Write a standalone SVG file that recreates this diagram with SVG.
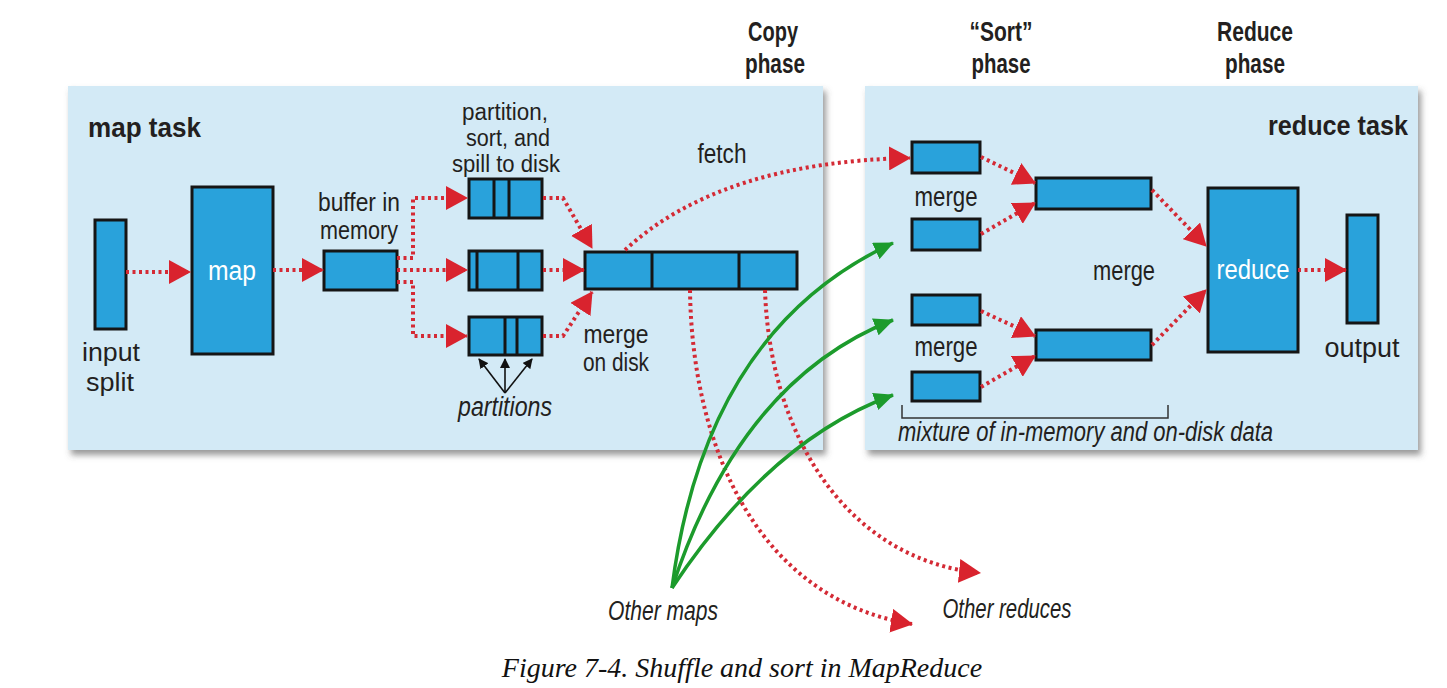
<svg xmlns="http://www.w3.org/2000/svg" width="1447" height="688" viewBox="0 0 1447 688">
<style>
.panel{fill:#d3eaf6}
.box{fill:#29a2db;stroke:#151515;stroke-width:3}
.div{stroke:#151515;stroke-width:3}
.lbl{font-family:"Liberation Sans",Arial,sans-serif;font-size:27px;fill:#231f20;text-anchor:middle}
.s26{font-size:26px}
.s25{font-size:25px}
.s23{font-size:23px}
.it{font-style:italic}
.bold{font-weight:bold;font-size:28px}
.wht{fill:#ffffff}
.dot{fill:none;stroke:#d42a35;stroke-width:4;stroke-dasharray:3 3.5}
.grn{fill:none;stroke:#1c9b2c;stroke-width:3.5}
.blk{fill:none;stroke:#111;stroke-width:1.6}
.cap{font-family:"Liberation Serif",serif;font-style:italic;font-size:28px;fill:#111;text-anchor:middle}
</style>
<defs>
<filter id="sh" x="-5%" y="-5%" width="115%" height="120%">
<feDropShadow dx="3" dy="5" stdDeviation="3" flood-color="#555" flood-opacity="0.6"/>
</filter>
<marker id="ra" markerUnits="userSpaceOnUse" markerWidth="22" markerHeight="24" refX="21" refY="12" orient="auto" viewBox="0 0 22 24">
<path d="M0,0 L22,12 L0,24 z" fill="#d9232e"/>
</marker>
<marker id="ga" markerUnits="userSpaceOnUse" markerWidth="20" markerHeight="18" refX="19" refY="9" orient="auto" viewBox="0 0 20 18">
<path d="M0,0 L20,9 L0,18 z" fill="#1c9b2c"/>
</marker>
<marker id="ba" markerUnits="userSpaceOnUse" markerWidth="10" markerHeight="10" refX="9" refY="5" orient="auto" viewBox="0 0 10 10">
<path d="M0,0 L10,5 L0,10 z" fill="#111"/>
</marker>
</defs>
<rect width="1447" height="688" fill="#ffffff"/>

<g id="map-task-panel">
<rect class="panel" x="68" y="86" width="755" height="364" filter="url(#sh)"/>
<text class="lbl bold" x="88" y="137" style="text-anchor:start" textLength="113" lengthAdjust="spacingAndGlyphs">map task</text>
</g>
<g id="reduce-task-panel">
<rect class="panel" x="865" y="86" width="553" height="364" filter="url(#sh)"/>
<text class="lbl bold" x="1268" y="135" style="text-anchor:start" textLength="140" lengthAdjust="spacingAndGlyphs">reduce task</text>
</g>

<g id="phase-labels">
<text class="lbl bold"><tspan x="773" y="41" textLength="50" lengthAdjust="spacingAndGlyphs">Copy</tspan><tspan x="775" y="73" textLength="60" lengthAdjust="spacingAndGlyphs">phase</tspan></text>
<text class="lbl bold"><tspan x="1001" y="41" textLength="63" lengthAdjust="spacingAndGlyphs">“Sort”</tspan><tspan x="1001" y="73" textLength="59" lengthAdjust="spacingAndGlyphs">phase</tspan></text>
<text class="lbl bold"><tspan x="1255" y="41" textLength="76" lengthAdjust="spacingAndGlyphs">Reduce</tspan><tspan x="1255" y="73" textLength="60" lengthAdjust="spacingAndGlyphs">phase</tspan></text>
</g>

<g id="input-split">
<rect class="box" x="95" y="220" width="31" height="109"/>
<text class="lbl s26"><tspan x="111" y="361" textLength="58" lengthAdjust="spacingAndGlyphs">input</tspan><tspan x="110" y="391" textLength="48" lengthAdjust="spacingAndGlyphs">split</tspan></text>
</g>
<g id="map">
<rect class="box" x="192" y="187" width="81" height="167"/>
<text class="lbl wht" x="232" y="280" textLength="48" lengthAdjust="spacingAndGlyphs">map</text>
</g>
<g id="buffer">
<rect class="box" x="324" y="251" width="73" height="39"/>
<text class="lbl s25"><tspan x="359" y="211" textLength="82" lengthAdjust="spacingAndGlyphs">buffer in</tspan><tspan x="359" y="239" textLength="78" lengthAdjust="spacingAndGlyphs">memory</tspan></text>
</g>
<g id="spills">
<text class="lbl s23"><tspan x="505" y="120" textLength="86" lengthAdjust="spacingAndGlyphs">partition,</tspan><tspan x="508" y="146" textLength="84" lengthAdjust="spacingAndGlyphs">sort, and</tspan><tspan x="506" y="172" textLength="108" lengthAdjust="spacingAndGlyphs">spill to disk</tspan></text>
<rect class="box" x="469" y="179" width="73" height="39"/>
<line class="div" x1="494" y1="179" x2="494" y2="218"/>
<line class="div" x1="509" y1="179" x2="509" y2="218"/>
<rect class="box" x="469" y="251" width="73" height="39"/>
<line class="div" x1="477" y1="251" x2="477" y2="290"/>
<line class="div" x1="518" y1="251" x2="518" y2="290"/>
<rect class="box" x="469" y="317" width="73" height="38"/>
<line class="div" x1="505" y1="317" x2="505" y2="355"/>
<line class="div" x1="517" y1="317" x2="517" y2="355"/>
</g>
<g id="partitions">
<path class="blk" d="M505,393 L479,359" marker-end="url(#ba)"/>
<path class="blk" d="M505,393 L505,359" marker-end="url(#ba)"/>
<path class="blk" d="M505,393 L532,359" marker-end="url(#ba)"/>
<text class="lbl it" x="505" y="416" textLength="94" lengthAdjust="spacingAndGlyphs">partitions</text>
</g>
<g id="merge-on-disk">
<rect class="box" x="585" y="252" width="212" height="37"/>
<line class="div" x1="652" y1="252" x2="652" y2="289"/>
<line class="div" x1="739" y1="252" x2="739" y2="289"/>
<text class="lbl s25"><tspan x="616" y="343" textLength="65" lengthAdjust="spacingAndGlyphs">merge</tspan><tspan x="616" y="371" textLength="66" lengthAdjust="spacingAndGlyphs">on disk</tspan></text>
</g>
<g id="fetch-label">
<text class="lbl" x="722" y="163" textLength="49" lengthAdjust="spacingAndGlyphs">fetch</text>
</g>

<g id="sort-inputs">
<rect class="box" x="912" y="142" width="68" height="31"/>
<rect class="box" x="912" y="219" width="68" height="31"/>
<rect class="box" x="912" y="295" width="68" height="30"/>
<rect class="box" x="912" y="372" width="68" height="29"/>
<text class="lbl" x="946" y="206" textLength="63" lengthAdjust="spacingAndGlyphs">merge</text>
<text class="lbl" x="946" y="356" textLength="63" lengthAdjust="spacingAndGlyphs">merge</text>
</g>
<g id="merged">
<rect class="box" x="1036" y="178" width="115" height="31"/>
<rect class="box" x="1036" y="330" width="115" height="30"/>
<text class="lbl" x="1124" y="280" textLength="62" lengthAdjust="spacingAndGlyphs">merge</text>
</g>
<g id="reduce">
<rect class="box" x="1208" y="188" width="90" height="164"/>
<text class="lbl wht" x="1253" y="279" textLength="73" lengthAdjust="spacingAndGlyphs">reduce</text>
</g>
<g id="output">
<rect class="box" x="1347" y="215" width="31" height="108"/>
<text class="lbl" x="1362" y="357" textLength="75" lengthAdjust="spacingAndGlyphs">output</text>
</g>
<g id="mixture">
<path d="M902,405 V418 H1168 V405" fill="none" stroke="#333" stroke-width="1.5"/>
<text class="lbl it" x="898" y="441" style="text-anchor:start" textLength="375" lengthAdjust="spacingAndGlyphs">mixture of in-memory and on-disk data</text>
</g>

<g id="connectors">
<path class="dot" d="M126,272 H190" marker-end="url(#ra)"/>
<path class="dot" d="M273,270 H323" marker-end="url(#ra)"/>
<path class="dot" d="M397,258 H413 V198 H467" marker-end="url(#ra)"/>
<path class="dot" d="M397,270 H467" marker-end="url(#ra)"/>
<path class="dot" d="M397,282 H413 V336 H467" marker-end="url(#ra)"/>
<path class="dot" d="M543,198 H563 L592,248" marker-end="url(#ra)"/>
<path class="dot" d="M543,270 H584" marker-end="url(#ra)"/>
<path class="dot" d="M543,336 H563 L592,292" marker-end="url(#ra)"/>
<path class="dot" d="M625,250 Q720,162 910,158" marker-end="url(#ra)"/>
<path class="dot" d="M981,157 L1035,183" marker-end="url(#ra)"/>
<path class="dot" d="M981,234 L1035,203" marker-end="url(#ra)"/>
<path class="dot" d="M981,311 L1035,336" marker-end="url(#ra)"/>
<path class="dot" d="M981,387 L1035,356" marker-end="url(#ra)"/>
<path class="dot" d="M1152,190 L1206,246" marker-end="url(#ra)"/>
<path class="dot" d="M1152,345 L1206,290" marker-end="url(#ra)"/>
<path class="dot" d="M1298,270 H1346" marker-end="url(#ra)"/>
<path class="dot" d="M690,290 C692,450 760,600 912,624" marker-end="url(#ra)"/>
<path class="dot" d="M765,290 C770,440 850,560 980,573" marker-end="url(#ra)"/>
<path class="grn" d="M672,588 Q705,330 893,243" marker-end="url(#ga)"/>
<path class="grn" d="M672,588 Q740,380 893,320" marker-end="url(#ga)"/>
<path class="grn" d="M672,588 Q770,440 893,395" marker-end="url(#ga)"/>
</g>

<g id="external-labels">
<text class="lbl it" x="663" y="620" textLength="110" lengthAdjust="spacingAndGlyphs">Other maps</text>
<text class="lbl it" x="1007" y="618" textLength="129" lengthAdjust="spacingAndGlyphs">Other reduces</text>
</g>
<text class="cap" x="742" y="677">Figure 7-4. Shuffle and sort in MapReduce</text>
</svg>
